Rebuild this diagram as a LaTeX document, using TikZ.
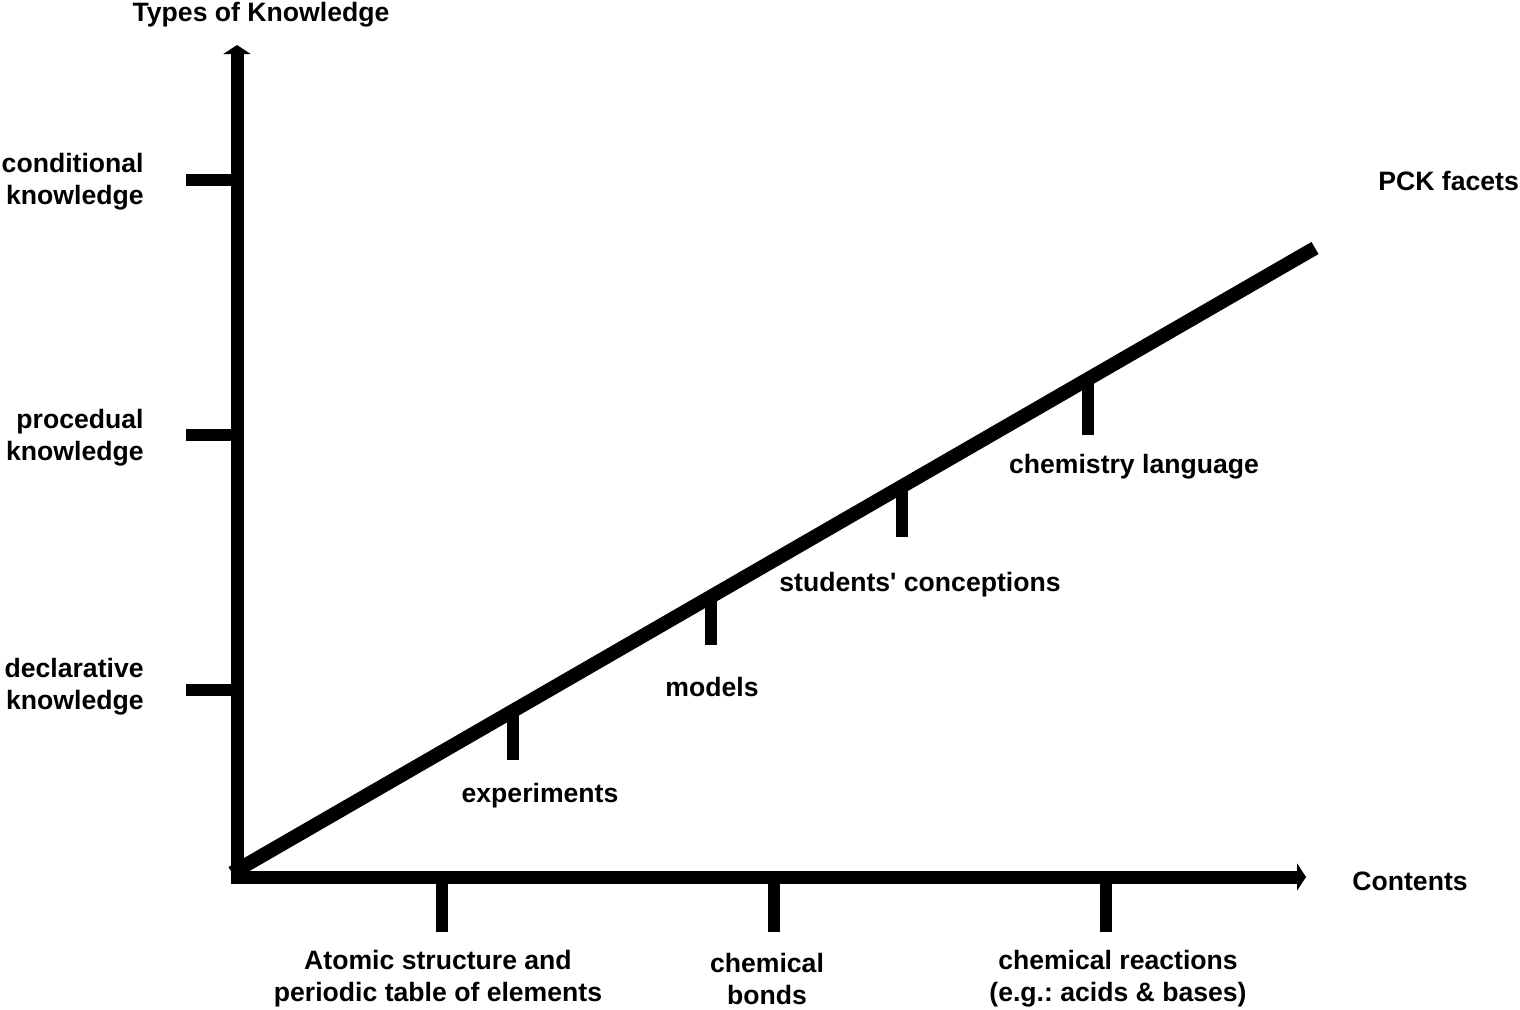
\documentclass[tikz,border=0pt]{standalone}
\usepackage{fontspec}
\newfontfamily\lsans{Liberation Sans}
\usetikzlibrary{arrows.meta}
\begin{document}
\frenchspacing
\begin{tikzpicture}[x=0.5pt,y=-0.5pt,
  axis/.style={line width=6.5pt},
  diag/.style={line width=7pt},
  tick/.style={line width=6pt},
  lbl/.style={font=\lsans\bfseries\fontsize{13.3}{16}\selectfont, inner sep=0pt, align=center},
  tip/.style={-{Triangle[width=13.5pt,length=4.5pt]}}]
\useasboundingbox (0,0) rectangle (1520,1009);
% axes
\coordinate (Ob) at (237,883);
\coordinate (Ol) at (231,877);
\coordinate (Ytop) at (237,45);
\coordinate (Xtip) at (1306,877);
\coordinate (O) at (232,873);
\coordinate (D) at (1315,248);
\draw[axis,tip] (Ob) -- (Ytop);
\draw[axis,tip] (Ol) -- (Xtip);
\draw[diag] (O) -- (D);
% y ticks
\foreach \n/\y in {c/180,p/435,d/690}{
  \coordinate (ya\n) at (186,\y);
  \coordinate (yb\n) at (233,\y);
  \draw[tick] (ya\n) -- (yb\n);
}
% x ticks
\foreach \n/\x in {a/442,b/774,c/1106}{
  \coordinate (xa\n) at (\x,883);
  \coordinate (xb\n) at (\x,932);
  \draw[tick] (xa\n) -- (xb\n);
}
% diagonal ticks
\foreach \n/\x/\y/\b in {e/513/707/760,m/711/593/645,s/902/483/537,l/1088/376/435}{
  \coordinate (da\n) at (\x,\y);
  \coordinate (db\n) at (\x,\b);
  \draw[tick] (da\n) -- (db\n);
}
% labels
\node[lbl] (tk) at (261,15) {Types of Knowledge};
\node[lbl,anchor=east,align=right] (cond) at (144,182) {conditional\\knowledge};
\node[lbl,anchor=east,align=right] (proc) at (144,438) {procedual\\knowledge};
\node[lbl,anchor=east,align=right] (decl) at (144,687) {declarative\\knowledge};
\node[lbl,anchor=west] (pck) at (1378,181) {PCK facets};
\node[lbl] (chl) at (1134,467) {chemistry language};
\node[lbl] (stc) at (920,585) {students' conceptions};
\node[lbl] (mod) at (712,687) {models};
\node[lbl] (exp) at (540,796) {experiments};
\node[lbl,anchor=west] (cont) at (1352,881) {Contents};
\node[lbl] (atom) at (438,979) {Atomic structure and\\periodic table of elements};
\node[lbl] (bond) at (767,979) {chemical\\bonds};
\node[lbl] (reac) at (1118,979) {chemical reactions\\(e.g.: acids \& bases)};
\end{tikzpicture}
\end{document}
